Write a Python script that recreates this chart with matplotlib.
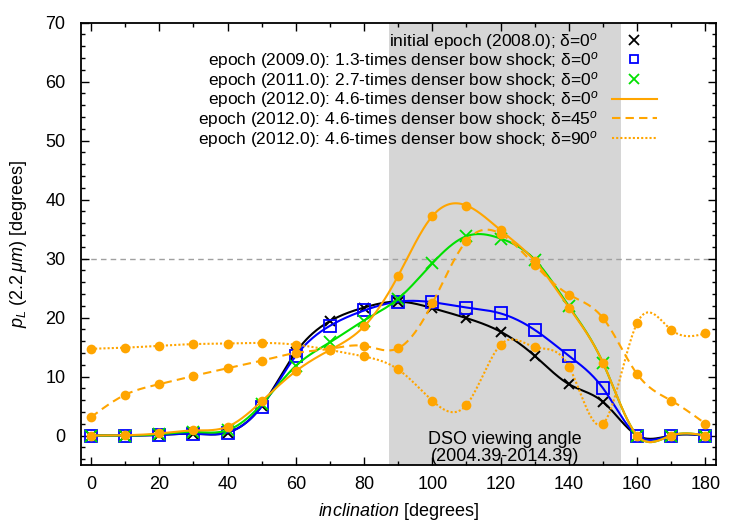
import numpy as np
import matplotlib
matplotlib.use("Agg")
import matplotlib.pyplot as plt
from matplotlib import font_manager
from matplotlib.lines import Line2D
from matplotlib.ticker import MultipleLocator

names = {f.name for f in font_manager.fontManager.ttflist}
FONT = "Liberation Sans Narrow" if "Liberation Sans Narrow" in names else "Liberation Sans"
plt.rcParams['font.family'] = [FONT, 'DejaVu Sans']
plt.rcParams['mathtext.fontset'] = 'custom'
plt.rcParams['mathtext.rm'] = FONT
plt.rcParams['mathtext.it'] = FONT + ':italic'
plt.rcParams['mathtext.bf'] = FONT + ':bold'

inclination = np.arange(0, 181, 10)
initial_2008 = [0, 0, 0.1, 0.3, 0.5, 5.0, 14.1, 19.4, 21.7, 22.7, 21.6, 19.9, 17.6, 13.5, 8.7, 5.7, 0, 0, 0]
epoch_2009 = [0, 0, 0.1, 0.3, 0.5, 4.9, 13.5, 18.6, 21.2, 22.7, 22.6, 21.7, 20.7, 17.9, 13.5, 8.0, 0, 0, 0]
epoch_2011 = [0, 0, 0.2, 0.6, 0.9, 5.3, 11.8, 15.8, 19.5, 23.2, 29.2, 33.8, 33.4, 29.8, 21.9, 12.3, 0, 0, 0]
epoch_2012_d0 = [0, 0.05, 0.35, 0.85, 1.5, 5.8, 10.9, 14.5, 18.5, 27.1, 37.2, 39.0, 34.8, 29.6, 21.7, 12.3, 0, 0, 0]
epoch_2012_d45 = [3.1, 6.9, 8.7, 10.1, 11.4, 12.7, 14.0, 14.7, 15.2, 14.8, 22.4, 33.0, 34.2, 28.9, 23.9, 19.9, 10.4, 5.9, 2.0]
epoch_2012_d90 = [14.7, 14.9, 15.2, 15.5, 15.6, 15.7, 15.4, 14.5, 13.4, 11.2, 5.9, 5.2, 15.4, 15.0, 11.7, 2.0, 19.1, 17.9, 17.3]

labels = [
    "initial epoch (2008.0); δ=" + r"$\mathit{0}^{\mathit{o}}$",
    "epoch (2009.0): 1.3-times denser bow shock; δ=" + r"$\mathit{0}^{\mathit{o}}$",
    "epoch (2011.0): 2.7-times denser bow shock; δ=" + r"$\mathit{0}^{\mathit{o}}$",
    "epoch (2012.0): 4.6-times denser bow shock; δ=" + r"$\mathit{0}^{\mathit{o}}$",
    "epoch (2012.0): 4.6-times denser bow shock; δ=" + r"$\mathit{45}^{\mathit{o}}$",
    "epoch (2012.0): 4.6-times denser bow shock; δ=" + r"$\mathit{90}^{\mathit{o}}$",
]

view_lo, view_hi = 87.3, 155.2


def natural_spline(x, y, n=600):
    x = np.asarray(x, float)
    y = np.asarray(y, float)
    m = len(x)
    h = np.diff(x)
    A = np.zeros((m, m))
    b = np.zeros(m)
    A[0, 0] = 1
    A[-1, -1] = 1
    for i in range(1, m - 1):
        A[i, i - 1] = h[i - 1]
        A[i, i] = 2 * (h[i - 1] + h[i])
        A[i, i + 1] = h[i]
        b[i] = 3 * ((y[i + 1] - y[i]) / h[i] - (y[i] - y[i - 1]) / h[i - 1])
    c = np.linalg.solve(A, b)
    bb = (y[1:] - y[:-1]) / h - h * (2 * c[:-1] + c[1:]) / 3
    d = (c[1:] - c[:-1]) / (3 * h)
    xs = np.linspace(x[0], x[-1], n)
    idx = np.clip(np.searchsorted(x, xs) - 1, 0, m - 2)
    dx = xs - x[idx]
    ys = y[idx] + bb[idx] * dx + c[idx] * dx ** 2 + d[idx] * dx ** 3
    return xs, ys


fig = plt.figure(figsize=(7.5, 5.25), dpi=100)
ax = fig.add_axes([0.1076, 0.1143, 0.8467, 0.8425])

ax.axvspan(view_lo, view_hi, color="#d6d6d6", lw=0, zorder=0)
ax.axhline(30, color="#a0a0a0", ls=(0, (4, 3)), lw=1.0, zorder=1)

ORANGE = "#ffa500"
series = [
    (initial_2008, "black", "-", dict(marker="x", ms=7, mew=1.4, color="black", ls="none")),
    (epoch_2009, "#0000ff", "-", dict(marker="s", ms=8.5, mew=1.3, mfc="none", mec="#0000ff", ls="none")),
    (epoch_2011, "#00e000", "-", dict(marker="x", ms=8, mew=1.3, color="#00e000", ls="none")),
    (epoch_2012_d0, ORANGE, "-", dict(marker="o", ms=7, mew=0, color=ORANGE, ls="none")),
    (epoch_2012_d45, ORANGE, (0, (4, 2.5)), dict(marker="o", ms=7, mew=0, color=ORANGE, ls="none")),
    (epoch_2012_d90, ORANGE, (0, (1, 1)), dict(marker="o", ms=7, mew=0, color=ORANGE, ls="none")),
]
z = 3
for vals, col, ls, mk in series:
    xs, ys = natural_spline(inclination, vals)
    ax.plot(xs, ys, color=col, ls=ls, lw=1.5, zorder=z)
    ax.plot(inclination, vals, zorder=z + 0.5, **mk)
    z += 1

ax.set_xlim(-3, 183)
ax.set_ylim(-5, 70)
ax.xaxis.set_major_locator(MultipleLocator(20))
ax.xaxis.set_minor_locator(MultipleLocator(10))
ax.yaxis.set_major_locator(MultipleLocator(10))
ax.yaxis.set_minor_locator(MultipleLocator(2))
ax.set_yticks(np.arange(0, 71, 10))
ax.tick_params(which="both", direction="in", top=True, right=True, labelsize=13, width=1.0)
ax.tick_params(which="major", length=6)
ax.tick_params(which="minor", length=3)
ax.tick_params(axis="x", pad=8)
ax.tick_params(axis="y", pad=11)
for s in ax.spines.values():
    s.set_linewidth(1.3)

ax.set_xlabel(r"$\mathit{inclination}$ [degrees]", fontsize=13, labelpad=6)
ax.set_ylabel(r"$p_L$ $\mathit{(2.2\,\mu m)}$ [degrees]", fontsize=13, labelpad=12)

ax.text((view_lo + view_hi) / 2, -2.2, "DSO viewing angle\n(2004.39-2014.39)",
        ha="center", va="center", fontsize=13, linespacing=1.0, zorder=20)

handles = [
    Line2D([], [], marker="x", color="black", ls="none", ms=7, mew=1.3),
    Line2D([], [], marker="s", mfc="none", mec="#0000ff", ls="none", ms=6, mew=1.3),
    Line2D([], [], marker="x", color="#00e000", ls="none", ms=7, mew=1.3),
    Line2D([], [], color=ORANGE, ls="-", lw=1.5),
    Line2D([], [], color=ORANGE, ls=(0, (4, 2.5)), lw=1.5),
    Line2D([], [], color=ORANGE, ls=(0, (1, 1)), lw=1.5),
]
leg = ax.legend(handles, labels, loc="upper right", bbox_to_anchor=(0.9076, 0.982), frameon=False,
                markerfirst=False, fontsize=12.5, handlelength=2.6, handletextpad=0.8,
                labelspacing=-0.08, borderaxespad=0.0, borderpad=0.0)
leg.set_zorder(30)

fig.savefig("out.png", dpi=100)
